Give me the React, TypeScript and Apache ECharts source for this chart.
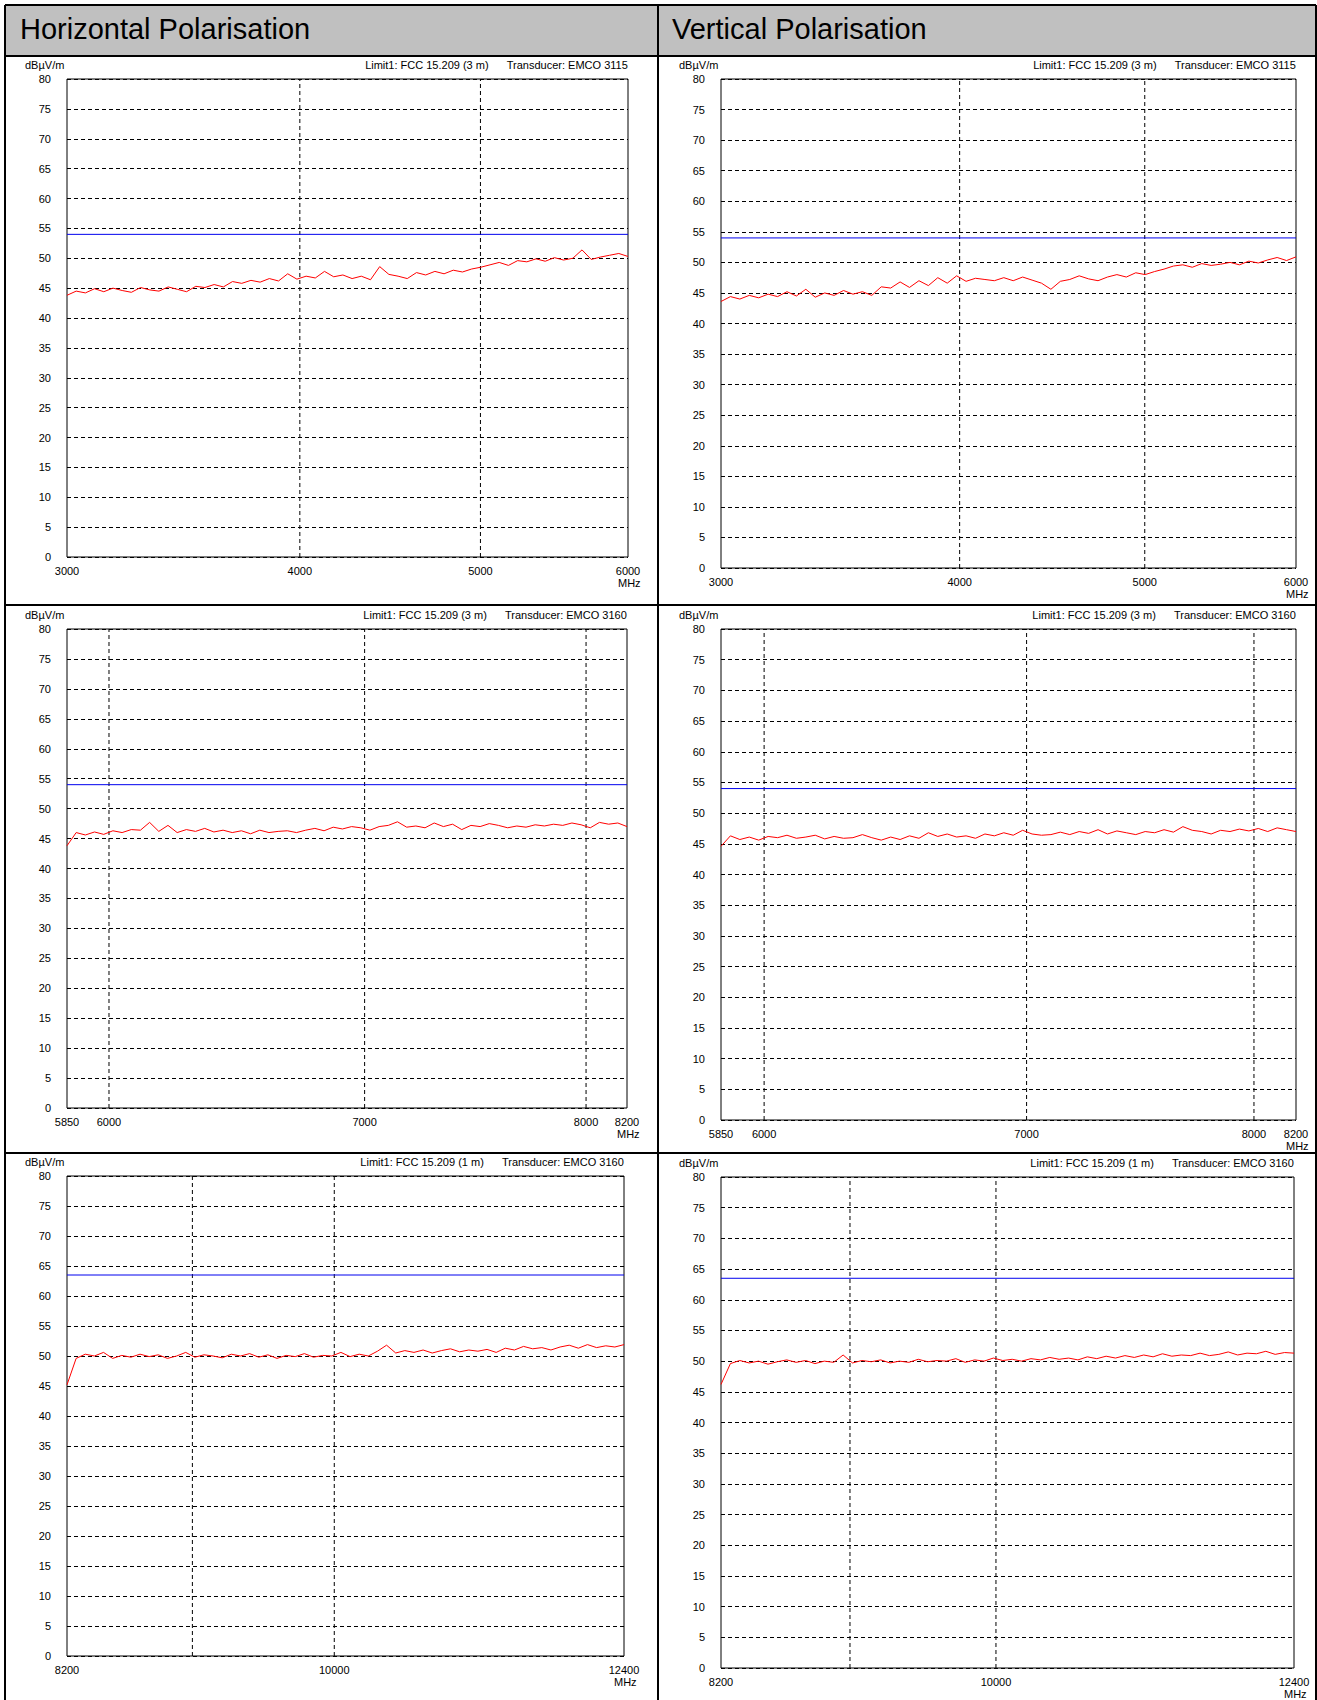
import * as echarts from 'echarts';
import { useEffect, useRef } from 'react';

// Panel sweep ranges (MHz), x-grid frequencies and tick labels
const rangeTop = [3000, 6000];
const rangeMid = [5850, 8200];
const rangeBot = [8200, 12400];
const gridTop = [4000, 5000];
const gridMid = [6000, 7000, 8000];
const gridBot = [9000, 10000];
const ticksTop = [3000, 4000, 5000, 6000];
const ticksMid = [5850, 6000, 7000, 8000, 8200];
const ticksBot = [8200, 10000, 12400];

// Limit lines (dBµV/m)
const limitTop = 54;
const limitMid = 54;
const limitBot = 63.5;

const hTop = [43.8, 44.5, 44.2, 44.9, 44.4, 45.0, 44.6, 44.3, 45.1, 44.7, 44.5, 45.2, 44.8, 44.4, 45.3,
  45.1, 45.6, 45.2, 46.1, 45.8, 46.3, 46.0, 46.6, 46.2, 47.4, 46.5, 47.0, 46.7, 47.8, 46.9,
  47.2, 46.6, 47.0, 46.4, 48.6, 47.3, 47.0, 46.6, 47.6, 47.2, 47.8, 47.4, 48.0, 47.7, 48.2,
  48.5, 48.9, 49.3, 48.8, 49.6, 49.4, 49.9, 49.5, 50.1, 49.7, 50.0, 51.4, 49.8, 50.2, 50.5, 50.8, 50.3];
const vTop = [43.6, 44.4, 44.0, 44.6, 44.2, 44.8, 44.4, 45.2, 44.5, 45.6, 44.3, 45.0, 44.6, 45.4, 44.8,
  45.2, 44.6, 46.0, 45.8, 46.8, 45.9, 47.0, 46.2, 47.5, 46.6, 47.8, 46.9, 47.4, 47.2, 47.0,
  47.5, 47.0, 47.6, 47.1, 46.6, 45.6, 46.9, 47.2, 47.8, 47.3, 47.0, 47.6, 48.0, 47.6, 48.3,
  48.0, 48.5, 48.9, 49.4, 49.6, 49.2, 49.8, 49.5, 49.7, 50.0, 49.6, 50.2, 49.9, 50.4, 50.8, 50.3, 50.9];
const hMid = [43.8, 46.0, 45.6, 46.1, 45.7, 46.3, 46.0, 46.5, 46.4, 47.7, 46.2, 47.2, 46.0, 46.5, 46.2,
  46.7, 46.1, 46.4, 46.0, 46.3, 45.8, 46.4, 46.0, 46.2, 46.3, 46.0, 46.4, 46.7, 46.3, 46.9,
  46.6, 47.0, 46.8, 46.4, 47.0, 47.2, 47.8, 46.9, 47.1, 46.8, 47.6, 47.0, 47.4, 46.5, 47.2,
  47.0, 47.5, 47.2, 46.8, 47.1, 46.9, 47.3, 47.1, 47.4, 47.2, 47.6, 47.3, 46.8, 47.7, 47.4, 47.6, 47.0];
const vMid = [44.6, 46.3, 45.7, 46.1, 45.6, 46.2, 46.0, 46.4, 45.9, 46.1, 46.4, 45.8, 46.2, 45.9, 46.0,
  46.5, 46.0, 45.6, 46.1, 45.7, 46.3, 45.9, 46.8, 46.2, 46.6, 46.1, 46.3, 45.9, 46.6, 46.3,
  46.8, 46.4, 47.2, 46.6, 46.4, 46.5, 46.9, 46.5, 47.0, 46.7, 47.3, 46.6, 47.1, 46.8, 46.5,
  47.0, 46.8, 47.3, 46.9, 47.8, 47.2, 47.0, 46.6, 47.2, 47.0, 47.4, 47.1, 47.5, 47.0, 47.6, 47.3, 47.0];
const hBot = [45.2, 49.6, 50.3, 50.0, 50.6, 49.6, 50.1, 49.8, 50.3, 49.9, 50.2, 49.6, 50.0, 50.6, 49.8,
  50.2, 50.0, 49.7, 50.3, 50.0, 50.4, 49.8, 50.2, 49.6, 50.1, 49.9, 50.4, 49.8, 50.1, 50.0,
  50.6, 49.9, 50.3, 50.0, 50.8, 51.8, 50.5, 50.9, 50.6, 51.0, 50.5, 50.9, 51.2, 50.7, 51.0,
  50.8, 51.1, 50.6, 51.3, 51.0, 51.6, 51.2, 51.4, 51.0, 51.5, 51.8, 51.3, 51.9, 51.4, 51.7, 51.5, 51.9];
const vBot = [46.2, 49.6, 50.1, 49.7, 50.0, 49.5, 49.9, 50.2, 49.8, 50.1, 49.6, 50.0, 49.8, 51.0, 49.7,
  50.1, 49.9, 50.2, 49.7, 50.0, 49.8, 50.3, 49.9, 50.1, 50.0, 50.4, 49.8, 50.2, 50.0, 50.5,
  50.1, 50.3, 50.0, 50.4, 50.2, 50.6, 50.3, 50.5, 50.2, 50.7, 50.4, 50.8, 50.5, 50.9, 50.6,
  51.0, 50.7, 51.2, 50.8, 51.0, 50.9, 51.3, 50.9, 51.1, 51.5, 51.0, 51.3, 51.2, 51.6, 51.1, 51.4, 51.3];

const subtitleTop = 'Limit1: FCC 15.209 (3 m)      Transducer: EMCO 3115';
const subtitleMid = 'Limit1: FCC 15.209 (3 m)      Transducer: EMCO 3160';
const subtitleBot = 'Limit1: FCC 15.209 (1 m)      Transducer: EMCO 3160';

interface Panel {
  range: number[];
  grid: number[];
  ticks: number[];
  limit: number;
  trace: number[];
  subtitle: string;
  box: { left: number; top: number; width: number; height: number };
}

const panels: Panel[] = [
  { range: rangeTop, grid: gridTop, ticks: ticksTop, limit: limitTop, trace: hTop, subtitle: subtitleTop,
    box: { left: 67, top: 79, width: 561, height: 478 } },
  { range: rangeTop, grid: gridTop, ticks: ticksTop, limit: limitTop, trace: vTop, subtitle: subtitleTop,
    box: { left: 721, top: 79, width: 575, height: 489 } },
  { range: rangeMid, grid: gridMid, ticks: ticksMid, limit: limitMid, trace: hMid, subtitle: subtitleMid,
    box: { left: 67, top: 629, width: 560, height: 479 } },
  { range: rangeMid, grid: gridMid, ticks: ticksMid, limit: limitMid, trace: vMid, subtitle: subtitleMid,
    box: { left: 721, top: 629, width: 575, height: 491 } },
  { range: rangeBot, grid: gridBot, ticks: ticksBot, limit: limitBot, trace: hBot, subtitle: subtitleBot,
    box: { left: 67, top: 1176, width: 557, height: 480 } },
  { range: rangeBot, grid: gridBot, ticks: ticksBot, limit: limitBot, trace: vBot, subtitle: subtitleBot,
    box: { left: 721, top: 1177, width: 573, height: 491 } },
];

const FONT = 'Arial, "Liberation Sans", sans-serif';
const lg = (v: number) => Math.log10(v);

export default function App() {
  const ref = useRef<HTMLDivElement | null>(null);

  useEffect(() => {
    if (!ref.current) return undefined;
    const chart = echarts.init(ref.current, undefined, { renderer: 'svg' });

    const grids: any[] = [];
    const xAxes: any[] = [];
    const yAxes: any[] = [];
    const series: any[] = [];
    const graphics: any[] = [];

    panels.forEach((p, i) => {
      const b = p.box;
      grids.push({ left: b.left, top: b.top, width: b.width, height: b.height, show: true,
        borderColor: '#000', borderWidth: 1, backgroundColor: '#fff' });
      const lo = lg(p.range[0]);
      const hi = lg(p.range[1]);
      xAxes.push({
        type: 'value', gridIndex: i, min: lo, max: hi,
        axisLine: { show: false }, axisTick: { show: false }, splitLine: { show: false },
        axisLabel: {
          customValues: p.ticks.map(lg), margin: 8, fontSize: 11, color: '#000', fontFamily: FONT,
          formatter: (v: number) => String(Math.round(Math.pow(10, v) / 50) * 50),
        },
      });
      yAxes.push({
        type: 'value', gridIndex: i, min: 0, max: 80, interval: 5,
        axisLine: { show: false }, axisTick: { show: false },
        splitLine: { show: true, lineStyle: { color: '#000', type: [4, 3], width: 1 } },
        axisLabel: { margin: 16, fontSize: 11, color: '#000', fontFamily: FONT },
      });
      // vertical frequency grid lines
      p.grid.forEach((f) => {
        series.push({
          type: 'line', xAxisIndex: i, yAxisIndex: i, symbol: 'none', silent: true,
          data: [[lg(f), 0], [lg(f), 80]],
          lineStyle: { color: '#000', type: [4, 3], width: 1 }, z: 1,
        });
      });
      const n = p.trace.length;
      series.push({
        type: 'line', xAxisIndex: i, yAxisIndex: i, symbol: 'none',
        data: p.trace.map((v, k) => [lo + ((hi - lo) * k) / (n - 1), v]),
        lineStyle: { color: '#ff0000', width: 1 }, z: 3,
      });
      series.push({
        type: 'line', xAxisIndex: i, yAxisIndex: i, symbol: 'none',
        data: [[lo, p.limit], [hi, p.limit]],
        lineStyle: { color: '#0000ee', width: 1 }, z: 4,
      });
      graphics.push({ type: 'text', left: b.left - 42, top: b.top - 20,
        style: { text: 'dBµV/m', font: `11px ${FONT}`, fill: '#000' } });
      graphics.push({ type: 'text', right: 1317 - (b.left + b.width), top: b.top - 20,
        style: { text: p.subtitle, font: `11px ${FONT}`, fill: '#000' } });
      graphics.push({ type: 'text', left: b.left + b.width - 10, top: b.top + b.height + 20,
        style: { text: 'MHz', font: `11px ${FONT}`, fill: '#000' } });
    });

    // table frame
    const lines: number[][] = [
      [5, 5, 1316, 5], [5, 56, 1316, 56], [5, 605, 1316, 605], [5, 1153, 1316, 1153],
      [5, 5, 5, 1700], [658, 5, 658, 1700], [1316, 5, 1316, 1700],
    ];
    graphics.push({ type: 'rect', shape: { x: 5, y: 5, width: 1311, height: 51 }, style: { fill: '#c0c0c0' }, z: -1 });
    lines.forEach(([x1, y1, x2, y2]) =>
      graphics.push({ type: 'line', shape: { x1, y1, x2, y2 }, style: { stroke: '#000', lineWidth: 2 } }));
    graphics.push({ type: 'text', left: 20, top: 14,
      style: { text: 'Horizontal Polarisation', font: `29px ${FONT}`, fill: '#000' } });
    graphics.push({ type: 'text', left: 672, top: 14,
      style: { text: 'Vertical Polarisation', font: `29px ${FONT}`, fill: '#000' } });

    chart.setOption({
      animation: false,
      backgroundColor: '#fff',
      grid: grids,
      xAxis: xAxes,
      yAxis: yAxes,
      series,
      graphic: graphics,
    });
    return () => chart.dispose();
  }, []);

  return <div ref={ref} style={{ position: 'absolute', left: 0, top: 0, width: 1317, height: 1700 }} />;
}
